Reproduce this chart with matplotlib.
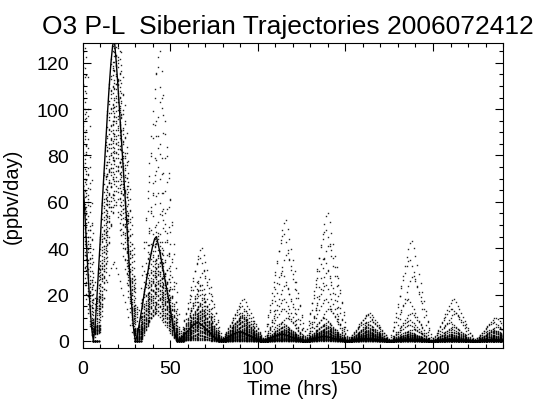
import numpy as np
import matplotlib
matplotlib.use('Agg')
import matplotlib.pyplot as plt
from matplotlib.ticker import MultipleLocator

plt.rcParams['font.family'] = ['Liberation Sans', 'DejaVu Sans']

# Hourly output times [hrs]
hours = np.arange(0, 241)

# Diurnal P-L shape (fraction of daily peak), starting at the minimum
day_shape = [0.0, 0.05, 0.14, 0.24, 0.34, 0.45, 0.55, 0.65, 0.75, 0.84, 0.92, 0.98,
             1.0, 0.93, 0.85, 0.76, 0.67, 0.58, 0.49, 0.40, 0.30, 0.20, 0.11, 0.04]
first_minimum = 6  # hrs

# Per-trajectory start lag [hrs]
lag = [0, 2, 1, 3, 0, 2, 1, 1, 3, 0, 2, 1, 0, 3, 2, 1, 0, 2, 3, 1,
       0, 1, 2, 0, 3, 1, 2, 0, 1, 2, 0, 1, 3, 2, 0, 1, 2, 0, 1, 0]

# Daily peak P-L [ppbv/day] of each trajectory, one list per day (peak hour in the name)
peak_m6 = [143, 250, 240, 232, 225, 218, 210, 204, 198, 192, 186, 180, 175, 170, 165, 160, 155, 150, 146, 140,
           136, 132, 128, 124, 120, 116, 112, 108, 104, 100, 96, 92, 88, 84, 80, 76, 72, 68, 64, 60]
peak_18 = [130, 140, 136, 134, 132, 131, 129, 127, 125, 123, 121, 119, 117, 115, 113, 111, 109, 107, 105, 103,
           101, 99, 97, 95, 93, 91, 89, 87, 85, 83, 81, 79, 77, 75, 72, 69, 66, 63, 60, 34]
peak_42 = [45, 125, 118, 105, 95, 85, 75, 64, 56, 50, 46, 44, 42, 40, 38, 36, 35, 34, 33, 32,
           31, 30, 29, 28, 27, 26, 25, 24, 23, 22, 21, 20, 19, 18, 17, 16, 15, 14, 13, 12]
peak_66 = [8, 40, 36, 30, 26, 24, 22, 20, 18, 17, 16, 15, 14, 13.5, 13, 12.5, 12, 11.5, 11, 10.5,
           10, 9.5, 9, 8.5, 8, 7.5, 7, 6.5, 6, 5.5, 5, 4.5, 4, 3.5, 3, 2.5, 2, 1.5, 1, 0.5]
peak_90 = [4, 18, 15, 13, 12, 11, 10.5, 10, 9.5, 9, 8.5, 8, 7.5, 7, 6.5, 6, 5.5, 5, 4.8, 4.5,
           4.2, 4, 3.8, 3.5, 3.2, 3, 2.8, 2.5, 2.2, 2, 1.8, 1.5, 1.2, 1, 0.8, 0.6, 0.4, 0.3, 0.2, 0.1]
peak_114 = [3, 52, 46, 38, 30, 24, 18, 14, 10, 8, 6.5, 6, 5.5, 5, 4.8, 4.5, 4.2, 4, 3.8, 3.5,
            3.2, 3, 2.8, 2.5, 2.2, 2, 1.8, 1.6, 1.4, 1.2, 1, 0.9, 0.8, 0.7, 0.6, 0.5, 0.4, 0.3, 0.2, 0.1]
peak_138 = [2, 55, 48, 42, 36, 30, 24, 18, 14, 10, 8, 7, 6.5, 6, 5.5, 5, 4.8, 4.5, 4.2, 4,
            3.8, 3.5, 3.2, 3, 2.8, 2.5, 2.2, 2, 1.8, 1.6, 1.4, 1.2, 1, 0.9, 0.8, 0.6, 0.5, 0.4, 0.3, 0.2]
peak_162 = [1, 12, 11, 9, 8, 7, 6, 5.5, 5, 4.6, 4.2, 4, 3.8, 3.5, 3.2, 3, 2.8, 2.6, 2.4, 2.2,
            2, 1.8, 1.6, 1.5, 1.4, 1.3, 1.2, 1.1, 1, 0.9, 0.8, 0.7, 0.6, 0.5, 0.4, 0.35, 0.3, 0.2, 0.15, 0.1]
peak_186 = [0.5, 43, 35, 28, 18, 12, 9, 7, 5, 4, 3.5, 3, 2.8, 2.6, 2.4, 2.2, 2, 1.8, 1.6, 1.5,
            1.4, 1.3, 1.2, 1.1, 1, 0.9, 0.8, 0.7, 0.6, 0.5, 0.45, 0.4, 0.35, 0.3, 0.25, 0.2, 0.15, 0.1, 0.05, 0.05]
peak_210 = [0.5, 18, 14, 12, 8, 6, 5, 4, 3.5, 3, 2.6, 2.3, 2, 1.8, 1.6, 1.4, 1.3, 1.2, 1.1, 1,
            0.9, 0.8, 0.7, 0.6, 0.55, 0.5, 0.45, 0.4, 0.35, 0.3, 0.25, 0.2, 0.18, 0.15, 0.12, 0.1, 0.08, 0.06, 0.04, 0.02]
peak_234 = [0.5, 10, 8, 6, 5, 4.5, 4, 3.5, 3, 2.6, 2.3, 2, 1.8, 1.6, 1.4, 1.2, 1.1, 1, 0.9, 0.8,
            0.7, 0.6, 0.55, 0.5, 0.45, 0.4, 0.35, 0.3, 0.25, 0.2, 0.18, 0.15, 0.12, 0.1, 0.08, 0.06, 0.05, 0.04, 0.03, 0.02]

daily_peaks = np.array([peak_m6, peak_18, peak_42, peak_66, peak_90, peak_114,
                        peak_138, peak_162, peak_186, peak_210, peak_234])
shape = np.array(day_shape)

# Build P-L time series for each trajectory
n_traj = daily_peaks.shape[1]
pl = np.zeros((n_traj, len(hours)))
for i in range(n_traj):
    s = hours - first_minimum - lag[i]
    day = np.floor_divide(s, 24) + 1
    day = np.clip(day, 0, daily_peaks.shape[0] - 1)
    phase = np.mod(s, 24)
    pl[i] = daily_peaks[day, i] * shape[phase]

fig = plt.figure(figsize=(5.38, 4.02), dpi=100)
ax = fig.add_axes([0.154, 0.132, 0.781, 0.759])

for i in range(n_traj):
    ax.plot(hours, pl[i], linestyle='none', marker='s', markersize=1.0,
            markeredgewidth=0, color='k', alpha=0.85)
ax.plot(hours, pl[0], color='k', linewidth=1.0)

ax.set_xlim(0, 240)
ax.set_ylim(-3, 128.6)
ax.xaxis.set_major_locator(MultipleLocator(50))
ax.xaxis.set_minor_locator(MultipleLocator(10))
ax.yaxis.set_major_locator(MultipleLocator(20))
ax.yaxis.set_minor_locator(MultipleLocator(5))
ax.tick_params(which='both', direction='in', top=True, right=True, labelsize=14, width=0.8)
ax.tick_params(which='major', length=6)
ax.tick_params(which='minor', length=3)
ax.tick_params(axis='y', which='major', pad=10)
ax.tick_params(axis='x', which='major', pad=9)
for sp in ax.spines.values():
    sp.set_linewidth(0.8)

ax.set_xlabel('Time (hrs)', fontsize=14.5, labelpad=1)
ax.set_ylabel('(ppbv/day)', fontsize=14.5)
ax.yaxis.set_label_coords(-0.145, 0.5)
ax.set_title('O3 P-L  Siberian Trajectories 2006072412', fontsize=19, pad=7, x=0.489)

plt.savefig('out.png', dpi=100)
